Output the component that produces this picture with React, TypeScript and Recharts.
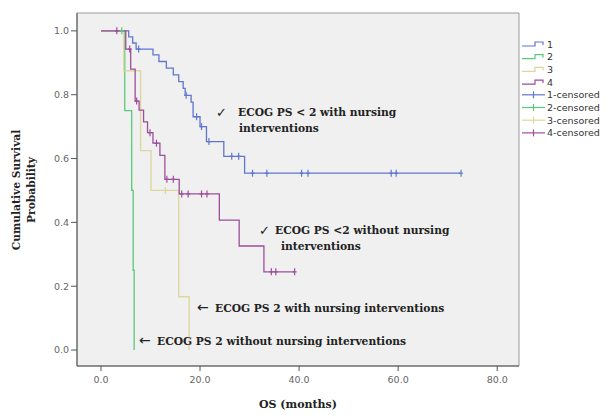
import React from 'react';
import { ComposedChart, Line, Scatter, XAxis, YAxis, ReferenceArea } from 'recharts';

// ---- Data (months, cumulative survival) ----
const xTicks = [0, 20, 40, 60, 80];
const yTicks = [0, 0.2, 0.4, 0.6, 0.8, 1.0];

const group1Times = [0, 5.6, 6.4, 7.1, 10.5, 11.7, 13.2, 14.6, 15.7, 16.6, 17.0, 18.2, 18.6, 20.0, 21.3, 24.8, 29.0, 72.7];
const group1Surv = [1.0, 0.981, 0.962, 0.943, 0.925, 0.904, 0.883, 0.862, 0.841, 0.82, 0.798, 0.777, 0.731, 0.7, 0.653, 0.607, 0.554, 0.554];
const group1Censored = [7.6, 17.2, 19.3, 20.3, 21.8, 26.4, 27.8, 30.6, 33.5, 40.5, 41.8, 58.6, 59.6, 72.7];

const group2Times = [0, 4.8, 6.2, 6.5, 6.7];
const group2Surv = [1.0, 0.75, 0.5, 0.25, 0.0];
const group2Censored = [4.2];

const group3Times = [0, 4.6, 8.0, 10.1, 15.7, 17.8];
const group3Surv = [1.0, 0.875, 0.625, 0.5, 0.167, 0.0];
const group3Censored = [13.0];

const group4Times = [0, 5.0, 6.0, 6.9, 7.7, 8.6, 9.4, 10.5, 11.9, 12.9, 15.8, 23.9, 27.9, 32.9, 39.1];
const group4Surv = [1.0, 0.943, 0.88, 0.78, 0.752, 0.715, 0.681, 0.648, 0.61, 0.535, 0.489, 0.407, 0.326, 0.245, 0.245];
const group4Censored = [3.2, 5.8, 7.2, 9.9, 11.2, 13.3, 14.6, 16.3, 17.6, 20.3, 21.4, 34.4, 35.3, 39.1];

const legendLabels = ['1', '2', '3', '4', '1-censored', '2-censored', '3-censored', '4-censored'];

const COLORS = ['#5f77cf', '#58cb7a', '#ddd69e', '#9c4e9c'];

const toSteps = (times: number[], surv: number[]) => times.map((t, i) => ({ t, s: surv[i] }));
const survAt = (times: number[], surv: number[], t: number) => {
  let s = surv[0];
  for (let i = 0; i < times.length; i++) if (times[i] <= t) s = surv[i];
  return s;
};
const toCensor = (times: number[], surv: number[], cens: number[]) =>
  cens.map((t) => ({ t, s: survAt(times, surv, t) }));

const groups = [
  { times: group1Times, surv: group1Surv, cens: group1Censored },
  { times: group2Times, surv: group2Surv, cens: group2Censored },
  { times: group3Times, surv: group3Surv, cens: group3Censored },
  { times: group4Times, surv: group4Surv, cens: group4Censored },
];

const CensorMark = (color: string) => (props: any) => {
  const { cx, cy } = props;
  if (cx == null || cy == null) return <g />;
  return (
    <g>
      <line x1={cx} x2={cx} y1={cy - 3.5} y2={cy + 3.5} stroke={color} strokeWidth={1.2} />
      <line x1={cx - 2} x2={cx + 2} y1={cy} y2={cy} stroke={color} strokeWidth={1.2} />
    </g>
  );
};

const serif = 'DejaVu Serif';
const sans = 'DejaVu Sans';

export default function App() {
  return (
    <div style={{ position: 'absolute', left: 0, top: 0, width: 606, height: 415, background: '#fff' }}>
      <ComposedChart width={606} height={415} margin={{ top: 13, right: 87, left: 0, bottom: 0 }}>
        <XAxis
          type="number"
          dataKey="t"
          domain={[-4.84, 84.4]}
          ticks={xTicks}
          allowDataOverflow
          tickFormatter={(v: number) => v.toFixed(1)}
          height={49}
          tickSize={5}
          tickMargin={5}
          axisLine={{ stroke: '#555' }}
          tickLine={{ stroke: '#555' }}
          tick={{ fontSize: 9.5, fill: '#666', fontFamily: sans }}
        />
        <YAxis
          type="number"
          dataKey="s"
          domain={[-0.05, 1.056]}
          ticks={yTicks}
          allowDataOverflow
          tickFormatter={(v: number) => v.toFixed(1)}
          width={77}
          tickSize={6}
          tickMargin={2}
          axisLine={{ stroke: '#555' }}
          tickLine={{ stroke: '#555' }}
          tick={{ fontSize: 9.5, fill: '#666', fontFamily: sans }}
        />
        <ReferenceArea x1={-4.84} x2={84.4} y1={-0.05} y2={1.056} fill="#f0f0f0" fillOpacity={1} stroke="#9a9a9a" />
        {groups.map((g, i) => (
          <Line
            key={'l' + i}
            data={toSteps(g.times, g.surv)}
            dataKey="s"
            type="stepAfter"
            stroke={COLORS[i]}
            strokeWidth={1.3}
            dot={false}
            activeDot={false}
            isAnimationActive={false}
          />
        ))}
        {groups.map((g, i) => (
          <Scatter
            key={'c' + i}
            data={toCensor(g.times, g.surv, g.cens)}
            dataKey="s"
            shape={CensorMark(COLORS[i])}
            isAnimationActive={false}
          />
        ))}
      </ComposedChart>
      <svg
        width={606}
        height={415}
        style={{ position: 'absolute', left: 0, top: 0, pointerEvents: 'none' }}
      >
        {/* axis titles */}
        <g transform="translate(16.5,190) rotate(-90)">
          <text x={0} y={0} textAnchor="middle" dominantBaseline="central" fontFamily={serif} fontWeight="bold" fontSize={10.7} fill="#222">
            Cumulative Survival
          </text>
        </g>
        <g transform="translate(31,190) rotate(-90)">
          <text x={0} y={0} textAnchor="middle" dominantBaseline="central" fontFamily={serif} fontWeight="bold" fontSize={10.7} fill="#222">
            Probability
          </text>
        </g>
        <text x={298} y={408} textAnchor="middle" fontFamily={serif} fontWeight="bold" fontSize={11} fill="#222">
          OS (months)
        </text>

        {/* annotations */}
        <g fontFamily={serif} fontWeight="bold" fontSize={10.7} fill="#222">
          <text x={216} y={117} fontFamily={sans} fontWeight="bold" fontSize={13}>✓</text>
          <text x={238} y={116}>ECOG PS &lt; 2 with nursing</text>
          <text x={239} y={132}>interventions</text>

          <text x={259} y={235} fontFamily={sans} fontWeight="bold" fontSize={13}>✓</text>
          <text x={275} y={234}>ECOG PS &lt;2 without nursing</text>
          <text x={281} y={250}>interventions</text>

          <text x={197} y={312} fontFamily={sans} fontWeight="normal" fontSize={14}>←</text>
          <text x={215} y={312}>ECOG PS 2 with nursing interventions</text>

          <text x={139} y={345} fontFamily={sans} fontWeight="normal" fontSize={14}>←</text>
          <text x={157} y={345}>ECOG PS 2 without nursing interventions</text>
        </g>

        {/* legend */}
        {legendLabels.map((lab, i) => {
          const y = 44 + i * 12.7;
          const color = COLORS[i % 4];
          return (
            <g key={lab}>
              {i < 4 ? (
                <path d={`M522,${y + 2} H535 V${y - 2} H543 V${y + 1}`} fill="none" stroke={color} strokeWidth={1.2} />
              ) : (
                <g>
                  <line x1={522} x2={545} y1={y} y2={y} stroke={color} strokeWidth={1.2} />
                  <line x1={533.5} x2={533.5} y1={y - 3.5} y2={y + 3.5} stroke={color} strokeWidth={1.2} />
                </g>
              )}
              <text x={547} y={y + 3.5} fontFamily={sans} fontSize={9.5} fill="#333">
                {lab}
              </text>
            </g>
          );
        })}
      </svg>
    </div>
  );
}
